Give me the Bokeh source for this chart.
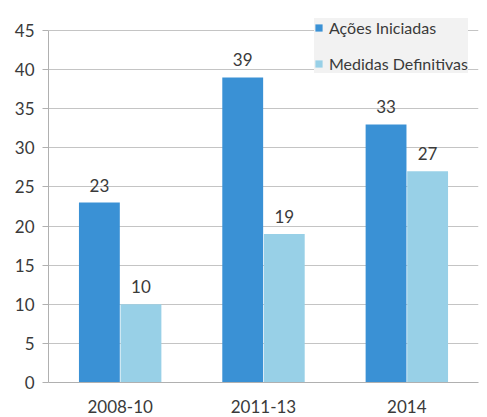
from bokeh.plotting import figure
from bokeh.models import ColumnDataSource, Legend, LegendItem, FixedTicker
from bokeh.transform import dodge
from bokeh.core.properties import value
from bokeh.embed import file_html
from bokeh.resources import INLINE

categories = ["2008-10", "2011-13", "2014"]
acoes = [23, 39, 33]
medidas = [10, 19, 27]
series_names = ["Ações Iniciadas", "Medidas Definitivas"]
y_ticks = [0, 5, 10, 15, 20, 25, 30, 35, 40, 45]

DARK = "#3a91d5"
LIGHT = "#98d0e7"
FONT = "Lato"
TXT = "#3a3a3a"
FS = "17px"

src = ColumnDataSource(dict(cat=categories, a=acoes, m=medidas,
                            al=[str(v) for v in acoes], ml=[str(v) for v in medidas]))

p = figure(x_range=categories, y_range=(0, 47.56), width=486, height=416,
           output_backend="svg", toolbar_location=None,
           min_border_left=48, min_border_right=8, min_border_top=10, min_border_bottom=34)
p.outline_line_color = None
p.background_fill_color = "white"

bw = 0.285
r1 = p.vbar(x=dodge("cat", -0.145, range=p.x_range), top="a", width=bw, source=src,
            fill_color=DARK, line_color=None)
r2 = p.vbar(x=dodge("cat", 0.145, range=p.x_range), top="m", width=bw, source=src,
            fill_color=LIGHT, line_color=None)

p.text(x=dodge("cat", -0.145, range=p.x_range), y="a", text="al", source=src,
       text_align="center", text_baseline="bottom", y_offset=-11,
       text_font=value(FONT), text_font_size=FS, text_color=TXT)
p.text(x=dodge("cat", 0.145, range=p.x_range), y="m", text="ml", source=src,
       text_align="center", text_baseline="bottom", y_offset=-11,
       text_font=value(FONT), text_font_size=FS, text_color=TXT)

p.yaxis.ticker = FixedTicker(ticks=y_ticks)
p.yaxis.bounds = (0, 45)
p.ygrid.grid_line_color = "#c4c4c4"
p.xgrid.grid_line_color = None
p.x_range.range_padding = 0.0

for ax in (p.xaxis[0], p.yaxis[0]):
    ax.axis_line_color = "#b0b0b0"
    ax.major_label_text_font = FONT
    ax.major_label_text_font_size = FS
    ax.major_label_text_color = TXT
    ax.minor_tick_line_color = None
p.yaxis.major_tick_line_color = "#b0b0b0"
p.yaxis.major_tick_out = 6
p.yaxis.major_tick_in = 0
p.yaxis.major_label_standoff = 8
p.xaxis.major_tick_line_color = None
p.xaxis.major_label_standoff = 11

legend = Legend(items=[LegendItem(label=series_names[0], renderers=[r1]),
                       LegendItem(label=series_names[1], renderers=[r2])],
                location=(266, 309))
legend.background_fill_color = "#f2f2f2"
legend.background_fill_alpha = 1
legend.border_line_color = None
legend.label_text_font = FONT
legend.label_text_font_size = "16px"
legend.label_text_color = TXT
legend.glyph_width = 9
legend.glyph_height = 9
legend.spacing = 17
legend.label_standoff = 6
legend.padding = 5
legend.margin = 0
p.add_layout(legend)

open("out.html", "w").write(file_html(p, INLINE))
